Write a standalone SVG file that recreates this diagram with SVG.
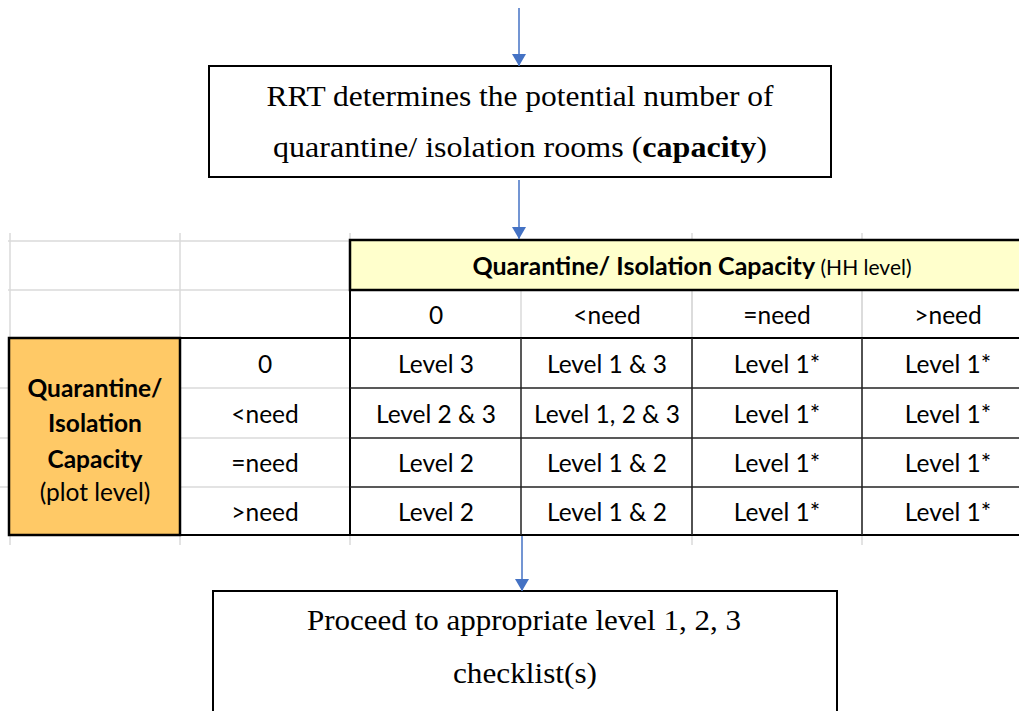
<svg xmlns="http://www.w3.org/2000/svg" width="1019" height="711" viewBox="0 0 1019 711">
<defs>
<marker id="ah" markerWidth="12" markerHeight="14" refX="12" refY="7" orient="auto" markerUnits="userSpaceOnUse" viewBox="0 0 12 14">
<path d="M0,0 L12,7 L0,14 Z" fill="#4472C4"/>
</marker>
<style>
.box{fill:#fff;stroke:#000;stroke-width:2}
.serif{font-family:"Liberation Serif","Times New Roman",serif;font-size:29px;fill:#000;text-anchor:middle}
.cell{font-family:Lato,"Liberation Sans",sans-serif;font-size:24.5px;fill:#000;text-anchor:middle}
.grid{stroke:#DADADA;stroke-width:1.5;fill:none}
.bl{stroke:#000;stroke-width:2;fill:none}
.th{stroke:#222;stroke-width:1.5;fill:none}
.conn{stroke:#4472C4;stroke-width:1.5;fill:none}
</style>
</defs>
<rect width="1019" height="711" fill="#fff"/>

<g id="table">
<g class="grid">
<line x1="8" y1="241" x2="350" y2="241"/>
<line x1="8" y1="290" x2="350" y2="290"/>
<line x1="10" y1="233" x2="10" y2="545"/>
<line x1="180" y1="233" x2="180" y2="545"/>
<line x1="350" y1="233" x2="350" y2="545"/>
<line x1="692" y1="233" x2="692" y2="545"/>
<line x1="862" y1="233" x2="862" y2="545"/>
<line x1="521" y1="290" x2="521" y2="338"/>
<line x1="692" y1="290" x2="692" y2="338"/>
<line x1="862" y1="290" x2="862" y2="338"/>
<line x1="180" y1="388" x2="350" y2="388"/>
<line x1="180" y1="438" x2="350" y2="438"/>
<line x1="180" y1="487" x2="350" y2="487"/>
<line x1="0" y1="388" x2="9" y2="388"/>
<line x1="0" y1="438" x2="9" y2="438"/>
<line x1="0" y1="487" x2="9" y2="487"/>
</g>
<rect x="350" y="240" width="680" height="50" fill="#FFFFCC" stroke="#000" stroke-width="2.5"/>
<rect x="9" y="338" width="171" height="197" fill="#FFC966" stroke="#000" stroke-width="2.5"/>
<line class="bl" x1="8" y1="338" x2="1019" y2="338" stroke-width="2.5"/>
<line class="bl" x1="8" y1="535" x2="1019" y2="535" stroke-width="2.5"/>
<line class="bl" x1="350" y1="240" x2="350" y2="535"/>
<g class="th">
<line x1="350" y1="388" x2="1019" y2="388"/>
<line x1="350" y1="438" x2="1019" y2="438"/>
<line x1="350" y1="487" x2="1019" y2="487"/>
<line x1="521" y1="338" x2="521" y2="535"/>
<line x1="692" y1="338" x2="692" y2="535"/>
<line x1="862" y1="338" x2="862" y2="535"/>
</g>

<text x="692" y="275" font-family="Lato,'Liberation Sans',sans-serif" font-size="25" text-anchor="middle"><tspan font-weight="bold">Quarantine/ Isolation Capacity</tspan><tspan font-size="21"> (HH level)</tspan></text>

<text class="cell" x="436" y="324">0</text>
<text class="cell" x="607" y="324">&lt;need</text>
<text class="cell" x="777" y="324">=need</text>
<text class="cell" x="948" y="324">&gt;need</text>

<text class="cell" x="95" y="397" font-weight="bold" font-size="25">Quarantine/</text>
<text class="cell" x="95" y="432" font-weight="bold" font-size="25">Isolation</text>
<text class="cell" x="95" y="468" font-weight="bold" font-size="25">Capacity</text>
<text class="cell" x="95" y="501" font-size="22">(plot level)</text>

<text class="cell" x="265" y="373">0</text>
<text class="cell" x="265" y="423">&lt;need</text>
<text class="cell" x="265" y="472">=need</text>
<text class="cell" x="265" y="521">&gt;need</text>

<text class="cell" x="436" y="373">Level 3</text>
<text class="cell" x="607" y="373">Level 1 &amp; 3</text>
<text class="cell" x="777" y="373">Level 1*</text>
<text class="cell" x="948" y="373">Level 1*</text>

<text class="cell" x="436" y="423">Level 2 &amp; 3</text>
<text class="cell" x="607" y="423">Level 1, 2 &amp; 3</text>
<text class="cell" x="777" y="423">Level 1*</text>
<text class="cell" x="948" y="423">Level 1*</text>

<text class="cell" x="436" y="472">Level 2</text>
<text class="cell" x="607" y="472">Level 1 &amp; 2</text>
<text class="cell" x="777" y="472">Level 1*</text>
<text class="cell" x="948" y="472">Level 1*</text>

<text class="cell" x="436" y="521">Level 2</text>
<text class="cell" x="607" y="521">Level 1 &amp; 2</text>
<text class="cell" x="777" y="521">Level 1*</text>
<text class="cell" x="948" y="521">Level 1*</text>
</g>

<g id="box-rrt">
<rect class="box" x="209" y="66" width="622" height="111"/>
<text class="serif" x="520" y="106" textLength="507" lengthAdjust="spacingAndGlyphs">RRT determines the potential number of</text>
<text class="serif" x="520" y="157" textLength="494" lengthAdjust="spacingAndGlyphs">quarantine/ isolation rooms (<tspan font-weight="bold">capacity</tspan>)</text>
</g>

<g id="box-proceed">
<rect class="box" x="213" y="591" width="624" height="130"/>
<text class="serif" x="524" y="630" textLength="434" lengthAdjust="spacingAndGlyphs">Proceed to appropriate level 1, 2, 3</text>
<text class="serif" x="525" y="683" textLength="144" lengthAdjust="spacingAndGlyphs">checklist(s)</text>
</g>

<g id="connectors">
<line class="conn" x1="519" y1="8" x2="519" y2="66" marker-end="url(#ah)"/>
<line class="conn" x1="519" y1="180" x2="519" y2="239" marker-end="url(#ah)"/>
<line class="conn" x1="522" y1="536" x2="522" y2="591" marker-end="url(#ah)"/>
</g>
</svg>
